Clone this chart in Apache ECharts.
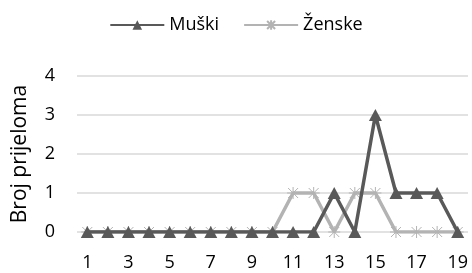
<!DOCTYPE html>
<html>
<head>
<meta charset="utf-8">
<script src="https://cdn.jsdelivr.net/npm/echarts@6/dist/echarts.min.js"></script>
<style>
html, body { margin: 0; padding: 0; background: #fff; }
#chart { width: 472px; height: 273px; }
</style>
</head>
<body>
<div id="chart"></div>
<script>
// x categories (1..19) and the two series
var categories = ['1','2','3','4','5','6','7','8','9','10','11','12','13','14','15','16','17','18','19'];
var muski  = [0,0,0,0,0,0,0,0,0,0,0,0,1,0,3,1,1,1,0];
var zenske = [0,0,0,0,0,0,0,0,0,0,1,1,0,1,1,0,0,0,0];
var seriesNames = ['Muški', 'Ženske'];
var yTitle = 'Broj prijeloma';

var fontFam = '"Open Sans", "Liberation Sans", sans-serif';
var starPath = 'path://M0,0L10,10M10,0L0,10M5,-1L5,11M-1,5L11,5';

var chart = echarts.init(document.getElementById('chart'));
var option = {
	animation: false,
	legend: {
		top: 11,
		left: 'center',
		itemWidth: 54,
		itemHeight: 12,
		itemGap: 24,
		textStyle: { fontFamily: fontFam, fontSize: 18, color: '#000' },
		data: seriesNames
	},
	grid: { left: 77, right: 4, top: 76, bottom: 41 },
	xAxis: {
		type: 'category',
		data: categories,
		boundaryGap: true,
		axisLine: { show: false },
		axisTick: { show: false },
		axisLabel: { interval: 1, fontFamily: fontFam, fontSize: 18, color: '#000', margin: 22 }
	},
	yAxis: {
		type: 'value',
		min: 0, max: 4, interval: 1,
		name: yTitle,
		nameLocation: 'middle',
		nameGap: 46,
		nameTextStyle: { fontFamily: fontFam, fontSize: 21, color: '#000' },
		axisLabel: { fontFamily: fontFam, fontSize: 18, color: '#000', margin: 22 },
		splitLine: { lineStyle: { color: '#d9d9d9', width: 1.5 } }
	},
	series: [
		{
			name: seriesNames[1],
			type: 'line',
			data: zenske,
			symbol: starPath,
			symbolSize: 12,
			lineStyle: { color: '#b3b3b3', width: 3.5 },
			itemStyle: { color: '#b3b3b3', borderColor: '#b3b3b3', borderWidth: 1 },
			z: 2
		},
		{
			name: seriesNames[0],
			type: 'line',
			data: muski,
			symbol: 'triangle',
			symbolSize: [13, 12],
			lineStyle: { color: '#595959', width: 3.5 },
			itemStyle: { color: '#595959' },
			z: 3
		}
	]
};
chart.setOption(option);
</script>
</body>
</html>
